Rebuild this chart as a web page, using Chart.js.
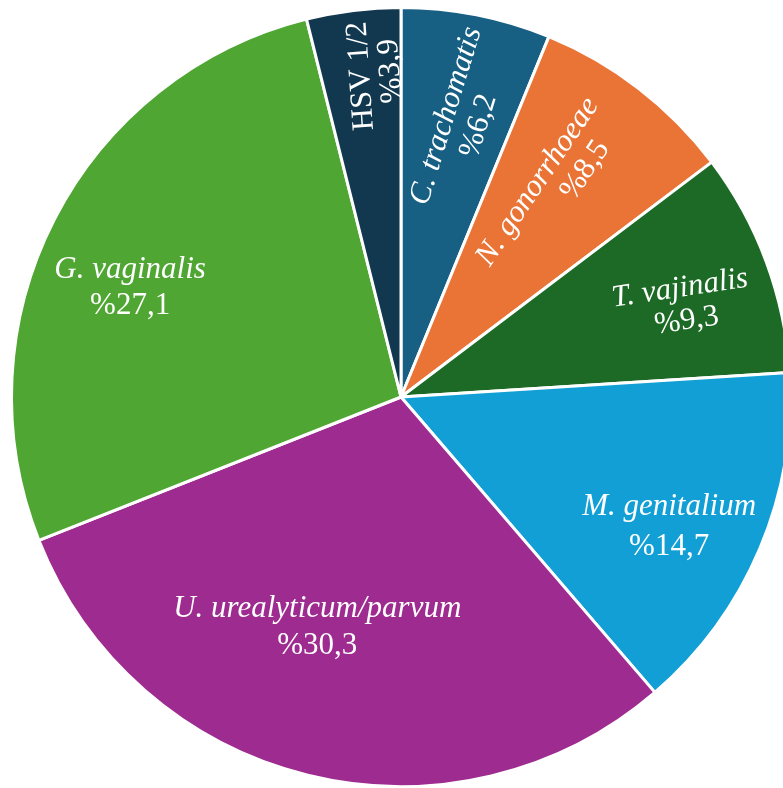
<!DOCTYPE html>
<html>
<head>
<meta charset="utf-8">
<script src="https://cdn.jsdelivr.net/npm/chart.js@4.4.0/dist/chart.umd.min.js"></script>
<style>
    html, body { margin: 0; padding: 0; background: #fff; overflow: hidden; font-family: 'Liberation Serif', serif; }
    #wrap { position: relative; width: 802px; height: 788px; }
</style>
</head>
<body>
<div id="wrap">
    <canvas id="pieChart" width="802" height="788"></canvas>
</div>
<script>
// Data
const names = ['C. trachomatis', 'N. gonorrhoeae', 'T. vajinalis', 'M. genitalium',
               'U. urealyticum/parvum', 'G. vaginalis', 'HSV 1/2'];
const percents = [6.2, 8.5, 9.3, 14.7, 30.3, 27.1, 3.9];
const percentLabels = ['%6,2', '%8,5', '%9,3', '%14,7', '%30,3', '%27,1', '%3,9'];
const italicNames = [true, true, true, true, true, true, false];

const sliceColors = ['#185f84', '#e97436', '#1c6a25', '#119fd6', '#9e2b8f', '#4fa632', '#11384f'];

// label placement: radius fraction, angle offset (deg), text rotation (deg),
// gap between the two lines, shift of the second line along the text
const labelLayout = [
    { r: 0.726, da: 1.4, rot: -73, gap: 34, shift: 0 },
    { r: 0.655, da: -1.5, rot: -56, gap: 33, shift: 36 },
    { r: 0.76, da: 2.2, rot: -8.5, gap: 33, shift: 2 },
    { r: 0.765, da: 3.0, rot: 0, gap: 40, shift: 0 },
    { r: 0.63, da: 6.1, rot: 0, gap: 37, shift: 0 },
    { r: 0.75, da: -5.2, rot: 0, gap: 36, shift: 0 },
    { r: 0.829, da: 2.6, rot: -94, gap: 30, shift: 3 }
];

const FONT = '31px "Liberation Serif", "Times New Roman", serif';

const sliceLabels = {
    id: 'sliceLabels',
    afterDatasetsDraw(chart) {
        const ctx = chart.ctx;
        const meta = chart.getDatasetMeta(0);
        meta.data.forEach((arc, i) => {
            const p = arc.getProps(['x', 'y', 'startAngle', 'endAngle', 'outerRadius'], true);
            const lay = labelLayout[i];
            const mid = (p.startAngle + p.endAngle) / 2 + lay.da * Math.PI / 180;
            const rr = p.outerRadius * lay.r;
            const cx = p.x + rr * Math.cos(mid);
            const cy = p.y + rr * Math.sin(mid);

            ctx.save();
            ctx.translate(cx, cy);
            ctx.rotate(lay.rot * Math.PI / 180);
            ctx.fillStyle = '#ffffff';
            ctx.textAlign = 'center';
            ctx.textBaseline = 'middle';
            ctx.font = (italicNames[i] ? 'italic ' : '') + FONT;
            ctx.fillText(names[i], 0, -lay.gap / 2);
            ctx.font = FONT;
            ctx.fillText(percentLabels[i], lay.shift, lay.gap / 2);
            ctx.restore();
        });
    }
};

const chart = new Chart(document.getElementById('pieChart'), {
    type: 'pie',
    data: {
        labels: names,
        datasets: [{
            data: percents,
            backgroundColor: sliceColors,
            borderColor: '#ffffff',
            borderWidth: 3
        }]
    },
    options: {
        responsive: false,
        animation: false,
        layout: { padding: { left: 10, right: 10, top: 6, bottom: 0 } },
        plugins: {
            legend: { display: false },
            tooltip: { enabled: false }
        }
    },
    plugins: [sliceLabels]
});

document.fonts.ready.then(() => chart.draw());
</script>
</body>
</html>
